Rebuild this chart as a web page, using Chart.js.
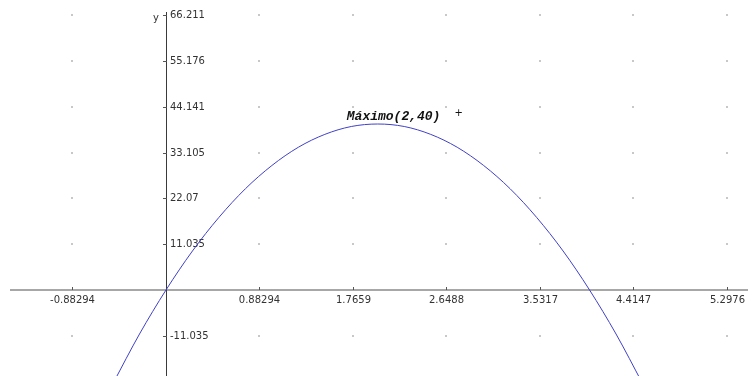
<!DOCTYPE html>
<html>
<head>
<meta charset="utf-8">
<script src="https://cdn.jsdelivr.net/npm/chart.js@4.4.1/dist/chart.umd.min.js"></script>
<style>
    html, body { margin: 0; padding: 0; background: #fff; }
    #wrap { width: 752px; height: 376px; position: relative; }
</style>
</head>
<body>
<div id="wrap"><canvas id="chart"></canvas></div>
<script>
// curve points
const xValues = [-0.5, -0.25, 0, 0.25, 0.5, 0.75, 1, 1.25, 1.5, 1.75, 2, 2.25, 2.5, 2.75, 3, 3.25, 3.5, 3.75, 4, 4.25, 4.5];
const yValues = [-22.5, -10.6, 0, 9.4, 17.5, 24.4, 30, 34.4, 37.5, 39.4, 40, 39.4, 37.5, 34.4, 30, 24.4, 17.5, 9.4, 0, -10.6, -22.5];

// axis ticks
const xTicks = [-0.88294, 0.88294, 1.7659, 2.6488, 3.5317, 4.4147, 5.2976];
const xTickLabels = ['-0.88294', '0.88294', '1.7659', '2.6488', '3.5317', '4.4147', '5.2976'];
const yTicks = [-11.035, 11.035, 22.07, 33.105, 44.141, 55.176, 66.211];
const yTickLabels = ['-11.035', '11.035', '22.07', '33.105', '44.141', '55.176', '66.211'];

const maxPoint = { x: 2, y: 40 };
const maxLabel = 'Máximo(2,40)';

const points = xValues.map((x, i) => ({ x: x, y: yValues[i] }));

// draws the dotted grid, the two axes with their ticks and labels
const axesPlugin = {
    id: 'axes',
    beforeDatasetsDraw(chart) {
        const ctx = chart.ctx;
        const sx = chart.scales.x;
        const sy = chart.scales.y;
        const x0 = sx.getPixelForValue(0);
        const y0 = sy.getPixelForValue(0);

        ctx.save();
        // grid dots
        ctx.fillStyle = '#c8c8c8';
        xTicks.forEach(xv => {
            yTicks.forEach(yv => {
                const px = Math.round(sx.getPixelForValue(xv));
                const py = Math.round(sy.getPixelForValue(yv));
                ctx.fillRect(px - 1, py - 1, 2, 2);
            });
        });

        // x axis
        ctx.strokeStyle = '#8a8a8a';
        ctx.lineWidth = 1.5;
        ctx.beginPath();
        ctx.moveTo(10, y0);
        ctx.lineTo(748, y0);
        ctx.stroke();

        // y axis
        ctx.strokeStyle = '#3a3a3a';
        ctx.lineWidth = 1;
        ctx.beginPath();
        ctx.moveTo(Math.round(x0) + 0.5, 12);
        ctx.lineTo(Math.round(x0) + 0.5, chart.height);
        ctx.stroke();

        // ticks and labels
        ctx.font = '10px "DejaVu Sans"';
        ctx.fillStyle = '#333';
        ctx.strokeStyle = '#555';
        ctx.textAlign = 'center';
        ctx.textBaseline = 'middle';
        xTicks.forEach((v, i) => {
            const px = Math.round(sx.getPixelForValue(v)) + 0.5;
            ctx.beginPath();
            ctx.moveTo(px, y0 - 3);
            ctx.lineTo(px, y0);
            ctx.stroke();
            ctx.fillText(xTickLabels[i], px, y0 + 10);
        });
        ctx.textAlign = 'left';
        yTicks.forEach((v, i) => {
            const py = Math.round(sy.getPixelForValue(v)) + 0.5;
            ctx.beginPath();
            ctx.moveTo(x0 - 3, py);
            ctx.lineTo(x0 + 1, py);
            ctx.stroke();
            ctx.fillText(yTickLabels[i], x0 + 4, py);
        });

        // axis name
        ctx.textAlign = 'right';
        ctx.fillText('y', x0 - 7, sy.getPixelForValue(yTicks[yTicks.length - 1]) + 3);
        ctx.restore();
    },
    afterDatasetsDraw(chart) {
        const ctx = chart.ctx;
        const px = chart.scales.x.getPixelForValue(maxPoint.x);
        const py = chart.scales.y.getPixelForValue(maxPoint.y);
        ctx.save();
        ctx.fillStyle = '#111';
        ctx.font = 'italic bold 13px "Liberation Mono"';
        ctx.textAlign = 'left';
        ctx.textBaseline = 'alphabetic';
        ctx.fillText(maxLabel, px - 31, py - 4);
        ctx.font = '10px "DejaVu Sans"';
        ctx.textAlign = 'center';
        ctx.textBaseline = 'middle';
        ctx.fillText('+', px + 81, py - 11);
        ctx.restore();
    }
};

new Chart(document.getElementById('chart'), {
    type: 'scatter',
    data: {
        datasets: [{
            data: points,
            showLine: true,
            borderColor: '#4040c8',
            borderWidth: 1,
            pointRadius: 0,
            cubicInterpolationMode: 'monotone',
            fill: false
        }]
    },
    options: {
        responsive: true,
        maintainAspectRatio: false,
        devicePixelRatio: 1,
        animation: false,
        layout: { padding: 0 },
        plugins: {
            legend: { display: false },
            tooltip: { enabled: false }
        },
        scales: {
            x: {
                type: 'linear',
                display: false,
                bounds: 'data',
                min: -1.5675,
                max: 5.534
            },
            y: {
                type: 'linear',
                display: false,
                bounds: 'data',
                min: -20.72,
                max: 69.88
            }
        }
    },
    plugins: [axesPlugin]
});
</script>
</body>
</html>
